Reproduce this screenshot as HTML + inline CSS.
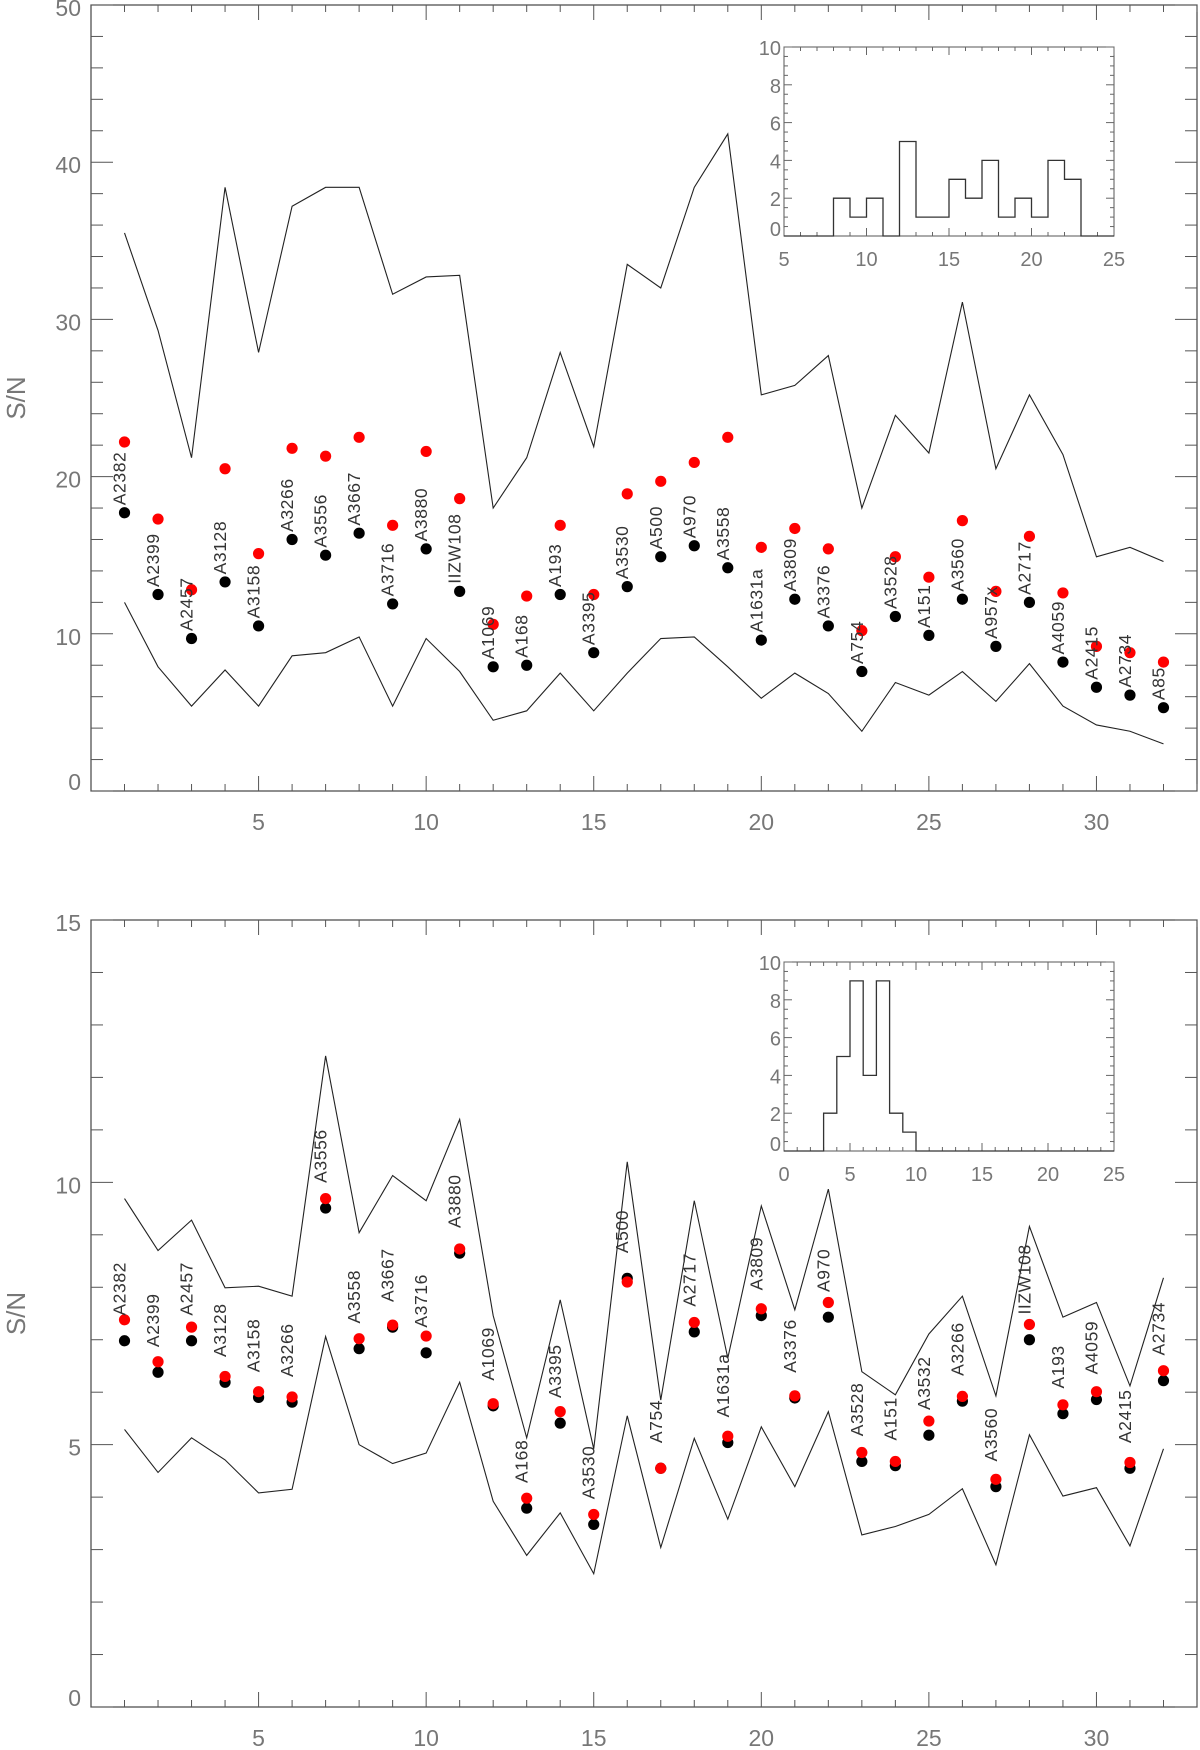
<!DOCTYPE html>
<html><head><meta charset="utf-8"><style>
html,body{margin:0;padding:0;background:#fff;}
svg{display:block;font-family:"Liberation Sans",sans-serif;}
</style></head><body>
<svg id="chart" width="1200" height="1750" viewBox="0 0 1200 1750"></svg>
<script>
// ---------- data ----------
const xIdx = [1,2,3,4,5,6,7,8,9,10,11,12,13,14,15,16,17,18,19,20,21,22,23,24,25,26,27,28,29,30,31,32];
const topNames = ["A2382","A2399","A2457","A3128","A3158","A3266","A3556","A3667","A3716","A3880","IIZW108","A1069","A168","A193","A3395","A3530","A500","A970","A3558","A1631a","A3809","A3376","A754","A3528","A151","A3560","A957x","A2717","A4059","A2415","A2734","A85"];
const topUpper = [35.5,29.3,21.2,38.4,27.9,37.2,38.4,38.4,31.6,32.7,32.8,18.0,21.2,27.9,21.9,33.5,32.0,38.4,41.8,25.2,25.8,27.7,18.0,23.9,21.5,31.1,20.5,25.2,21.4,14.9,15.5,14.6];
const topLower = [12.0,7.9,5.4,7.7,5.4,8.6,8.8,9.8,5.4,9.7,7.6,4.5,5.1,7.5,5.1,7.5,9.7,9.8,7.9,5.9,7.5,6.2,3.8,6.9,6.1,7.6,5.7,8.1,5.4,4.2,3.8,3.0];
const topRed = [22.2,17.3,12.8,20.5,15.1,21.8,21.3,22.5,16.9,21.6,18.6,10.6,12.4,16.9,12.5,18.9,19.7,20.9,22.5,15.5,16.7,15.4,10.2,14.9,13.6,17.2,12.7,16.2,12.6,9.2,8.8,8.2];
const topBlack = [17.7,12.5,9.7,13.3,10.5,16.0,15.0,16.4,11.9,15.4,12.7,7.9,8.0,12.5,8.8,13.0,14.9,15.6,14.2,9.6,12.2,10.5,7.6,11.1,9.9,12.2,9.2,12.0,8.2,6.6,6.1,5.3];
const topHistEdges = [8,9,10,11,12,13,14,15,16,17,18,19,20,21,22,23];
const topHistCounts = [2,1,2,0,5,1,1,3,2,4,1,2,1,4,3];

const botNames = ["A2382","A2399","A2457","A3128","A3158","A3266","A3556","A3558","A3667","A3716","A3880","A1069","A168","A3395","A3530","A500","A754","A2717","A1631a","A3809","A3376","A970","A3528","A151","A3532","A3266","A3560","IIZW108","A193","A4059","A2415","A2734"];
const botUpper = [9.69,8.70,9.28,7.99,8.02,7.83,12.41,9.04,10.13,9.65,11.2,7.46,5.13,7.76,4.92,10.39,5.85,9.65,6.65,9.55,7.57,9.87,6.39,5.95,7.11,7.83,5.93,9.16,7.43,7.71,6.12,8.18];
const botLower = [5.29,4.47,5.13,4.71,4.08,4.15,7.06,5.0,4.64,4.84,6.19,3.92,2.89,3.70,2.54,5.55,3.04,5.12,3.58,5.34,4.20,5.63,3.28,3.44,3.67,4.16,2.71,5.19,4.02,4.18,3.07,4.92];
const botRed = [7.38,6.58,7.24,6.30,6.01,5.91,9.69,7.02,7.28,7.07,8.73,5.78,3.98,5.63,3.67,8.10,4.55,7.33,5.16,7.59,5.93,7.71,4.85,4.68,5.45,5.92,4.34,7.29,5.76,6.01,4.66,6.41];
const botBlack = [6.98,6.38,6.98,6.19,5.90,5.81,9.51,6.83,7.24,6.75,8.65,5.74,3.79,5.41,3.48,8.17,4.55,7.15,5.04,7.46,5.89,7.43,4.68,4.60,5.18,5.83,4.20,7.00,5.59,5.86,4.55,6.22];
const botHistEdges = [3,4,5,6,7,8,9,10];
const botHistCounts = [2,5,9,4,9,2,1];

const xTicks = [5,10,15,20,25,30];
const topYTicks = [0,10,20,30,40,50];
const botYTicks = [0,5,10,15];
const topInsetXTicks = [5,10,15,20,25];
const botInsetXTicks = [0,5,10,15,20,25];
const insetYTicks = [0,2,4,6,8,10];

// ---------- helpers ----------
const NS = "http://www.w3.org/2000/svg";
const svg = document.getElementById("chart");
function mk(tag, attrs, parent){
  const e = document.createElementNS(NS, tag);
  for (const k in attrs) e.setAttribute(k, attrs[k]);
  (parent||svg).appendChild(e);
  return e;
}
function axis(lo, hi, p0, p1){ return v => p0 + (v-lo)/(hi-lo)*(p1-p0); }

function panel(cfg){
  const g = mk("g", {});
  
  
  const X = axis(0, 33, cfg.L, cfg.R);
  const Y = axis(0, cfg.ymax, cfg.B, cfg.T);
  // frame
  const fr = mk("rect", {x:cfg.L, y:cfg.T, width:cfg.R-cfg.L, height:cfg.B-cfg.T, fill:"none", stroke:"#444", "stroke-width":1.2}, g);
  
  
  // x ticks
  for (let v=1; v<=33; v++){
    const len = (v%5===0)?15:7;
    const x = X(v);
    mk("line",{x1:x,y1:cfg.B,x2:x,y2:cfg.B-len,stroke:"#555","stroke-width":1},g);
    mk("line",{x1:x,y1:cfg.T,x2:x,y2:cfg.T+len,stroke:"#555","stroke-width":1},g);
  }
  xTicks.forEach(v=>{
    const t = mk("text",{x:X(v),y:cfg.B+39,"text-anchor":"middle","font-size":23,fill:"#777"},g);
    t.textContent = v;
    
    
  });
  // y ticks
  for (let v=0; v<=cfg.ymax+1e-9; v+=cfg.ymin){
    const major = Math.abs(v/cfg.ymaj - Math.round(v/cfg.ymaj))<1e-6;
    const len = major?22:12;
    const y = Y(v);
    mk("line",{x1:cfg.L,y1:y,x2:cfg.L+len,y2:y,stroke:"#555","stroke-width":1},g);
    mk("line",{x1:cfg.R,y1:y,x2:cfg.R-len,y2:y,stroke:"#555","stroke-width":1},g);
  }
  cfg.yTicks.forEach(v=>{
    const t = mk("text",{x:cfg.L-10,y:Y(v)+(v===0?-1:11),"text-anchor":"end","font-size":23,fill:"#777"},g);
    t.textContent = v;
    
    
  });
  const yt = mk("text",{x:0,y:0,"text-anchor":"middle","font-size":26,fill:"#777",transform:`translate(25,${(cfg.T+cfg.B)/2}) rotate(-90)`},g);
  yt.textContent = "S/N";
  
  
  // lines
  const up = mk("polyline",{points:xIdx.map((x,i)=>X(x)+","+Y(cfg.upper[i])).join(" "),fill:"none",stroke:"#222","stroke-width":1.1},g);
  
  
  const lo = mk("polyline",{points:xIdx.map((x,i)=>X(x)+","+Y(cfg.lower[i])).join(" "),fill:"none",stroke:"#222","stroke-width":1.1},g);
  
  
  // points
  xIdx.forEach((x,i)=>{
    const b = mk("circle",{cx:X(x),cy:Y(cfg.black[i]),r:5.6,fill:"#000"},g);
    
    
    const r = mk("circle",{cx:X(x),cy:Y(cfg.red[i]),r:5.6,fill:"#f00"},g);
    
    
    const ly = Y(cfg.black[i]+0.48);
    const t = mk("text",{x:0,y:0,"font-size":17.5,fill:"#333","letter-spacing":"0.6",transform:`translate(${X(x)+1},${ly}) rotate(-90)`},g);
    t.textContent = cfg.names[i];
    
    
  });
  // inset histogram
  const ig = mk("g",{},g);
  
  
  const IX = axis(cfg.ixlo, cfg.ixhi, cfg.iL, cfg.iR);
  const IY = axis(0, 10, cfg.iB, cfg.iT);
  mk("rect",{x:cfg.iL,y:cfg.iT,width:cfg.iR-cfg.iL,height:cfg.iB-cfg.iT,fill:"#fff",stroke:"#555","stroke-width":1},ig);
  for (let v=cfg.ixlo; v<=cfg.ixhi; v++){
    const len = (v%5===0)?8:4; const x = IX(v);
    mk("line",{x1:x,y1:cfg.iB,x2:x,y2:cfg.iB-len,stroke:"#666","stroke-width":1},ig);
    mk("line",{x1:x,y1:cfg.iT,x2:x,y2:cfg.iT+len,stroke:"#666","stroke-width":1},ig);
  }
  for (let v=0; v<=10; v+=0.5){
    const len = (Math.abs(v/2-Math.round(v/2))<1e-6)?8:4; const y = IY(v);
    mk("line",{x1:cfg.iL,y1:y,x2:cfg.iL+len,y2:y,stroke:"#666","stroke-width":1},ig);
    mk("line",{x1:cfg.iR,y1:y,x2:cfg.iR-len,y2:y,stroke:"#666","stroke-width":1},ig);
  }
  cfg.ixTicks.forEach(v=>{
    const t = mk("text",{x:IX(v),y:cfg.iB+30,"text-anchor":"middle","font-size":20,fill:"#777"},ig);
    t.textContent = v;
    
    
  });
  insetYTicks.forEach(v=>{
    const t = mk("text",{x:cfg.iL-3,y:IY(v)+(v===0?0:8),"text-anchor":"end","font-size":20,fill:"#777"},ig);
    t.textContent = v;
    
    
  });
  let pts = [[IX(cfg.ixlo),IY(0)],[IX(cfg.hEdges[0]),IY(0)]];
  cfg.hCounts.forEach((c,i)=>{
    pts.push([IX(cfg.hEdges[i]),IY(c)]);
    pts.push([IX(cfg.hEdges[i+1]),IY(c)]);
  });
  pts.push([IX(cfg.hEdges[cfg.hEdges.length-1]),IY(0)]);
  pts.push([IX(cfg.ixhi),IY(0)]);
  const h = mk("polyline",{points:pts.map(p=>p.join(",")).join(" "),fill:"none",stroke:"#333","stroke-width":1.3},ig);
  
  
}

panel({name:"top-panel",L:91,R:1197,T:5,B:791,ymax:50,ymaj:10,ymin:2,yTicks:topYTicks,
  upper:topUpper,lower:topLower,red:topRed,black:topBlack,names:topNames,
  iL:784,iR:1114,iT:47,iB:236,ixlo:5,ixhi:25,ixTicks:topInsetXTicks,hEdges:topHistEdges,hCounts:topHistCounts});
panel({name:"bottom-panel",L:91,R:1197,T:920,B:1707,ymax:15,ymaj:5,ymin:1,yTicks:botYTicks,
  upper:botUpper,lower:botLower,red:botRed,black:botBlack,names:botNames,
  iL:784,iR:1114,iT:962,iB:1151,ixlo:0,ixhi:25,ixTicks:botInsetXTicks,hEdges:botHistEdges,hCounts:botHistCounts});
</script>
</body></html>
